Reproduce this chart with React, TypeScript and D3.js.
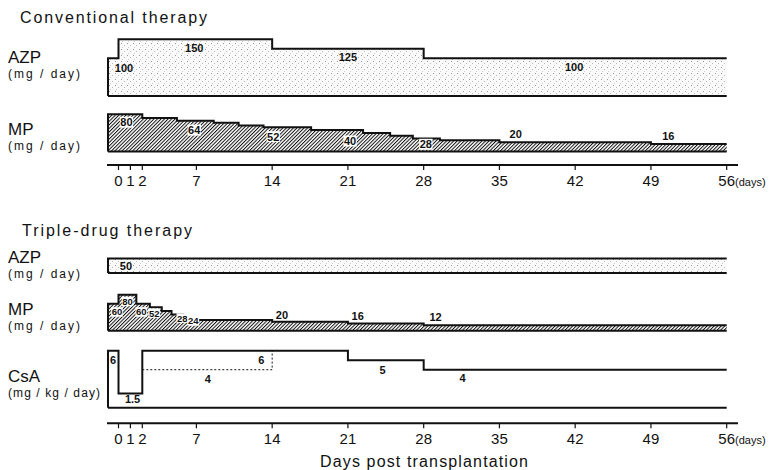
import * as d3 from "d3"

const W = 777
const H = 470
const font = "'Liberation Sans', Arial, Helvetica, sans-serif"

// x axis (days post transplantation)
const tickDays = [0, 1, 2, 7, 14, 21, 28, 35, 42, 49, 56]

// Conventional therapy
const convAzpDays = [-1, 0, 14, 28, 56]
const convAzpDose = [100, 150, 125, 100, 100]
const convAzpLabels = [
  { day: 0.46, dose: 74, text: "100" },
  { day: 6.8, dose: 127, text: "150" },
  { day: 21, dose: 103, text: "125" },
  { day: 41.9, dose: 77, text: "100" },
]

const convMpDays = [-1, 2, 5.2, 8.6, 10.9, 13.2, 17.6, 22.4, 24.9, 27, 29.5, 35, 49, 56]
const convMpDose = [80, 72, 66, 62, 56, 52, 46, 40, 34, 28, 24, 20, 16, 16]
const convMpLabels = [
  { day: 0.67, dose: 63, text: "80", box: true },
  { day: 6.8, dose: 46, text: "64", box: true },
  { day: 14.1, dose: 32, text: "52", box: true },
  { day: 21.2, dose: 22.6, text: "40", box: true },
  { day: 28.2, dose: 15.5, text: "28", box: true },
  { day: 36.5, dose: 37, text: "20" },
  { day: 50.6, dose: 33, text: "16" },
]

// Triple-drug therapy
const triAzpDays = [-1, 56]
const triAzpDose = [50, 50]
const triAzpLabels = [{ day: 0.63, dose: 24, text: "50" }]

const triMpDays = [-1, 0, 1.5, 2.7, 3.8, 4.7, 5.8, 7, 14, 21, 28, 56]
const triMpDose = [60, 80, 60, 52, 44, 36, 28, 24, 20, 16, 12, 12]
const triMpLabels = [
  { day: -0.15, dose: 41.6, text: "60", box: true },
  { day: 0.76, dose: 65, text: "80", box: true },
  { day: 1.92, dose: 41.6, text: "60", box: true },
  { day: 3.1, dose: 39, text: "52", box: true },
  { day: 5.7, dose: 28, text: "28", box: true },
  { day: 6.72, dose: 21.6, text: "24", box: true },
  { day: 14.9, dose: 35, text: "20" },
  { day: 21.9, dose: 33.3, text: "16" },
  { day: 29.1, dose: 31, text: "12" },
]

const csaDays = [-1, 0, 2, 21, 28, 56]
const csaDose = [6, 1.5, 6, 5, 4, 4]
const csaAltDays = [2, 14, 14]
const csaAltDose = [4, 4, 6]
const csaLabels = [
  { day: -0.52, dose: 5.0, text: "6" },
  { day: 1.18, dose: 0.88, text: "1.5" },
  { day: 13.0, dose: 5.0, text: "6" },
  { day: 8.06, dose: 3.0, text: "4" },
  { day: 24.2, dose: 3.97, text: "5" },
  { day: 31.6, dose: 3.16, text: "4" },
]

const x = d3.scaleLinear().domain([-1, 0, 2, 56]).range([108, 118.5, 142.3, 726.7])

type Label = { day: number; dose: number; text: string; box?: boolean }

function StepPanel({
  days,
  dose,
  y,
  fill,
  labels,
  fs = 11,
}: {
  days: number[]
  dose: number[]
  y: d3.ScaleLinear<number, number>
  fill: string
  labels: Label[]
  fs?: number
}) {
  const pts = days.map((d, i) => ({ d, v: dose[i] }))
  const area = d3
    .area<{ d: number; v: number }>()
    .curve(d3.curveStepAfter)
    .x((p) => x(p.d))
    .y0(y(0))
    .y1((p) => y(p.v))
  const line = d3
    .line<{ d: number; v: number }>()
    .curve(d3.curveStepAfter)
    .x((p) => x(p.d))
    .y((p) => y(p.v))
  const outline = [{ d: days[0], v: 0 }, ...pts]
  const cw = fs * 0.56
  return (
    <g>
      <path d={area(pts) ?? ""} fill={fill} />
      <path d={line(outline) ?? ""} fill="none" stroke="#111" strokeWidth={2} />
      <line x1={x(days[0])} x2={x(56)} y1={y(0)} y2={y(0)} stroke="#111" strokeWidth={2} />
      {labels.map((l, i) => {
        const size = l.box ? fs : 11
        return (
          <g key={i}>
            {l.box && (
              <rect
                x={x(l.day) - (l.text.length * cw) / 2 - 0.5}
                y={y(l.dose) - fs / 2}
                width={l.text.length * cw + 1}
                height={fs}
                fill="#fff"
              />
            )}
            <text
              x={x(l.day)}
              y={y(l.dose)}
              dy="0.36em"
              fontSize={size}
              fontWeight={700}
              textAnchor="middle"
              fill="#111"
            >
              {l.text}
            </text>
          </g>
        )
      })}
    </g>
  )
}

function Axis({ y0, showTitle }: { y0: number; showTitle?: boolean }) {
  return (
    <g>
      <line x1={107} x2={738} y1={y0} y2={y0} stroke="#111" strokeWidth={2} />
      {tickDays.map((d) => (
        <g key={d}>
          <line x1={x(d)} x2={x(d)} y1={y0} y2={y0 + 5} stroke="#111" strokeWidth={1.2} />
          <text x={x(d)} y={y0 + 21} fontSize={15} textAnchor="middle" fill="#111">
            {d}
          </text>
        </g>
      ))}
      <text x={735} y={y0 + 21} fontSize={11} fill="#111">
        (days)
      </text>
      {showTitle && (
        <text x={424} y={467} fontSize={16} textAnchor="middle" textLength={208} lengthAdjust="spacing" fill="#111">
          Days post transplantation
        </text>
      )}
    </g>
  )
}

function RowLabel({ name, unit, y0, unitLen = 72 }: { name: string; unit: string; y0: number; unitLen?: number }) {
  return (
    <g fill="#111">
      <text x={8} y={y0} fontSize={17}>
        {name}
      </text>
      <text x={8} y={y0 + 15} fontSize={12} textLength={unitLen} lengthAdjust="spacing">
        {unit}
      </text>
    </g>
  )
}

export default function App() {
  const yConvAzp = d3.scaleLinear([0, 150], [96, 39.3])
  const yConvMp = d3.scaleLinear([0, 80], [151.5, 114.3])
  const yTriAzp = d3.scaleLinear([0, 50], [273, 258.5])
  const yTriMp = d3.scaleLinear([0, 80], [330.7, 294.7])
  const yCsa = d3.scaleLinear([0, 6], [407.7, 350.7])

  const csaPts = csaDays.map((d, i) => ({ d, v: csaDose[i] }))
  const csaLine = d3
    .line<{ d: number; v: number }>()
    .curve(d3.curveStepAfter)
    .x((p) => x(p.d))
    .y((p) => yCsa(p.v))
  const altLine = d3
    .line<number>()
    .x((d) => x(d))
    .y((_, i) => yCsa(csaAltDose[i]))

  return (
    <svg
      width={W}
      height={H}
      viewBox={`0 0 ${W} ${H}`}
      style={{ position: "absolute", left: 0, top: 0, background: "#fff", fontFamily: font }}
    >
      <defs>
        <pattern id="hatch" width="2.5" height="2.5" patternUnits="userSpaceOnUse" patternTransform="rotate(45)">
          <rect width="2.5" height="2.5" fill="#fff" />
          <line x1="0.5" y1="0" x2="0.5" y2="2.5" stroke="#111" strokeWidth="1" />
        </pattern>
        <pattern id="dots" width="6" height="6" patternUnits="userSpaceOnUse">
          <rect width="6" height="6" fill="#fafafa" />
          <rect x="1" y="1" width="1" height="1" fill="#999" />
          <rect x="4" y="3" width="1" height="1" fill="#bbb" />
          <rect x="2" y="5" width="1" height="1" fill="#ccc" />
        </pattern>
      </defs>

      <text x={20} y={23} fontSize={16} textLength={187} lengthAdjust="spacing" fill="#111">
        Conventional therapy
      </text>
      <RowLabel name="AZP" unit="(mg / day)" y0={63} />
      <RowLabel name="MP" unit="(mg / day)" y0={135} />

      <StepPanel days={convAzpDays} dose={convAzpDose} y={yConvAzp} fill="url(#dots)" labels={convAzpLabels} />
      <StepPanel days={convMpDays} dose={convMpDose} y={yConvMp} fill="url(#hatch)" labels={convMpLabels} />
      <Axis y0={165} />

      <text x={22} y={236} fontSize={16} textLength={170} lengthAdjust="spacing" fill="#111">
        Triple-drug therapy
      </text>
      <RowLabel name="AZP" unit="(mg / day)" y0={263} />
      <RowLabel name="MP" unit="(mg / day)" y0={315} />
      <RowLabel name="CsA" unit="(mg / kg / day)" y0={382} unitLen={92} />

      <StepPanel days={triAzpDays} dose={triAzpDose} y={yTriAzp} fill="url(#dots)" labels={triAzpLabels} />
      <StepPanel days={triMpDays} dose={triMpDose} y={yTriMp} fill="url(#hatch)" labels={triMpLabels} fs={9.5} />

      <g>
        <path
          d={csaLine([{ d: -1, v: 0 }, ...csaPts]) ?? ""}
          fill="none"
          stroke="#111"
          strokeWidth={2}
        />
        <line x1={x(-1)} x2={x(56)} y1={yCsa(0)} y2={yCsa(0)} stroke="#111" strokeWidth={2} />
        <path d={altLine(csaAltDays) ?? ""} fill="none" stroke="#111" strokeWidth={1} strokeDasharray="2 2" />
        {csaLabels.map((l, i) => (
          <text
            key={i}
            x={x(l.day)}
            y={yCsa(l.dose)}
            dy="0.36em"
            fontSize={11}
            fontWeight={700}
            textAnchor="middle"
            fill="#111"
          >
            {l.text}
          </text>
        ))}
      </g>

      <Axis y0={423.3} showTitle />
    </svg>
  )
}
